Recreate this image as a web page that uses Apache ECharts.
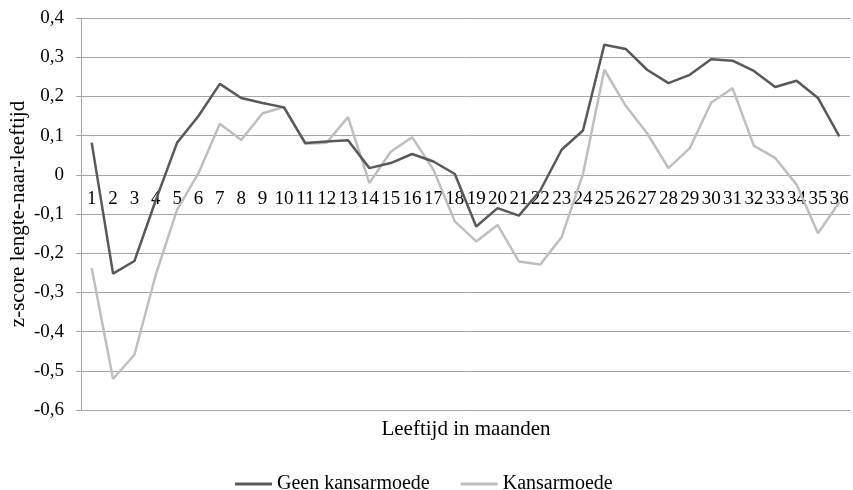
<!DOCTYPE html>
<html>
<head>
<meta charset="utf-8">
<script src="https://cdn.jsdelivr.net/npm/echarts@6/dist/echarts.min.js"></script>
<style>html,body{margin:0;padding:0;background:#fff}#c{width:853px;height:490px}</style>
</head>
<body>
<div id="c"></div>
<script>
const months = ['1','2','3','4','5','6','7','8','9','10','11','12','13','14','15','16','17','18','19','20','21','22','23','24','25','26','27','28','29','30','31','32','33','34','35','36'];
const geenKansarmoede = [0.082,-0.252,-0.220,-0.065,0.082,0.150,0.232,0.196,0.183,0.172,0.081,0.085,0.088,0.017,0.030,0.053,0.034,0.002,-0.132,-0.085,-0.104,-0.040,0.064,0.113,0.332,0.321,0.268,0.234,0.255,0.295,0.291,0.265,0.224,0.240,0.196,0.098];
const kansarmoede = [-0.238,-0.521,-0.459,-0.255,-0.089,0.004,0.130,0.089,0.157,0.173,0.079,0.082,0.147,-0.021,0.059,0.096,0.013,-0.119,-0.170,-0.128,-0.221,-0.229,-0.159,0.002,0.268,0.176,0.106,0.017,0.068,0.184,0.221,0.074,0.043,-0.025,-0.149,-0.070];
const seriesNames = ['Geen kansarmoede','Kansarmoede'];
const yAxisTitle = 'z-score lengte-naar-leeftijd';
const xAxisTitle = 'Leeftijd in maanden';

const FONT = 'Liberation Serif';
const chart = echarts.init(document.getElementById('c'));
chart.setOption({
  animation: false,
  textStyle: {fontFamily: FONT},
  grid: {left: 81, right: 3, top: 18, bottom: 80, containLabel: false, outerBoundsMode: 'none'},
  legend: {
    data: seriesNames,
    left: 230, top: 469,
    icon: 'rect', itemWidth: 37, itemHeight: 3, itemGap: 31,
    textStyle: {fontFamily: FONT, fontSize: 20, color: '#000'}
  },
  graphic: [{
    type: 'text',
    style: {text: xAxisTitle, x: 466, y: 429, align: 'center', verticalAlign: 'middle',
            font: '21px "Liberation Serif"', fill: '#000'}
  }],
  xAxis: {
    type: 'category', data: months, boundaryGap: true,
    position: 'bottom', offset: -235,
    axisLine: {onZero: false, lineStyle: {color: '#a6a6a6', width: 1}},
    axisTick: {show: false},
    axisLabel: {interval: 0, fontFamily: FONT, fontSize: 19, color: '#000', margin: 15, hideOverlap: false}
  },
  yAxis: {
    type: 'value', min: -0.6, max: 0.4, interval: 0.1,
    name: yAxisTitle, nameLocation: 'middle', nameGap: 52, nameMoveOverlap: false,
    nameTextStyle: {fontFamily: FONT, fontSize: 21, color: '#000'},
    axisLine: {show: true, lineStyle: {color: '#a6a6a6'}},
    axisTick: {show: true, length: 5, inside: false, lineStyle: {color: '#a6a6a6'}},
    splitLine: {lineStyle: {color: '#a6a6a6', width: 1}},
    axisLabel: {
      fontFamily: FONT, fontSize: 19, color: '#000', margin: 17,
      formatter: v => { const r = Math.round(v*10)/10; return r === 0 ? '0' : r.toFixed(1).replace('.', ','); }
    }
  },
  series: [
    {name: seriesNames[0], type: 'line', data: geenKansarmoede, symbol: 'none', lineStyle: {color: '#595959', width: 2.5}, itemStyle: {color: '#595959'}},
    {name: seriesNames[1], type: 'line', data: kansarmoede, symbol: 'none', lineStyle: {color: '#bfbfbf', width: 2.5}, itemStyle: {color: '#bfbfbf'}, z: 1}
  ]
});
</script>
</body>
</html>
